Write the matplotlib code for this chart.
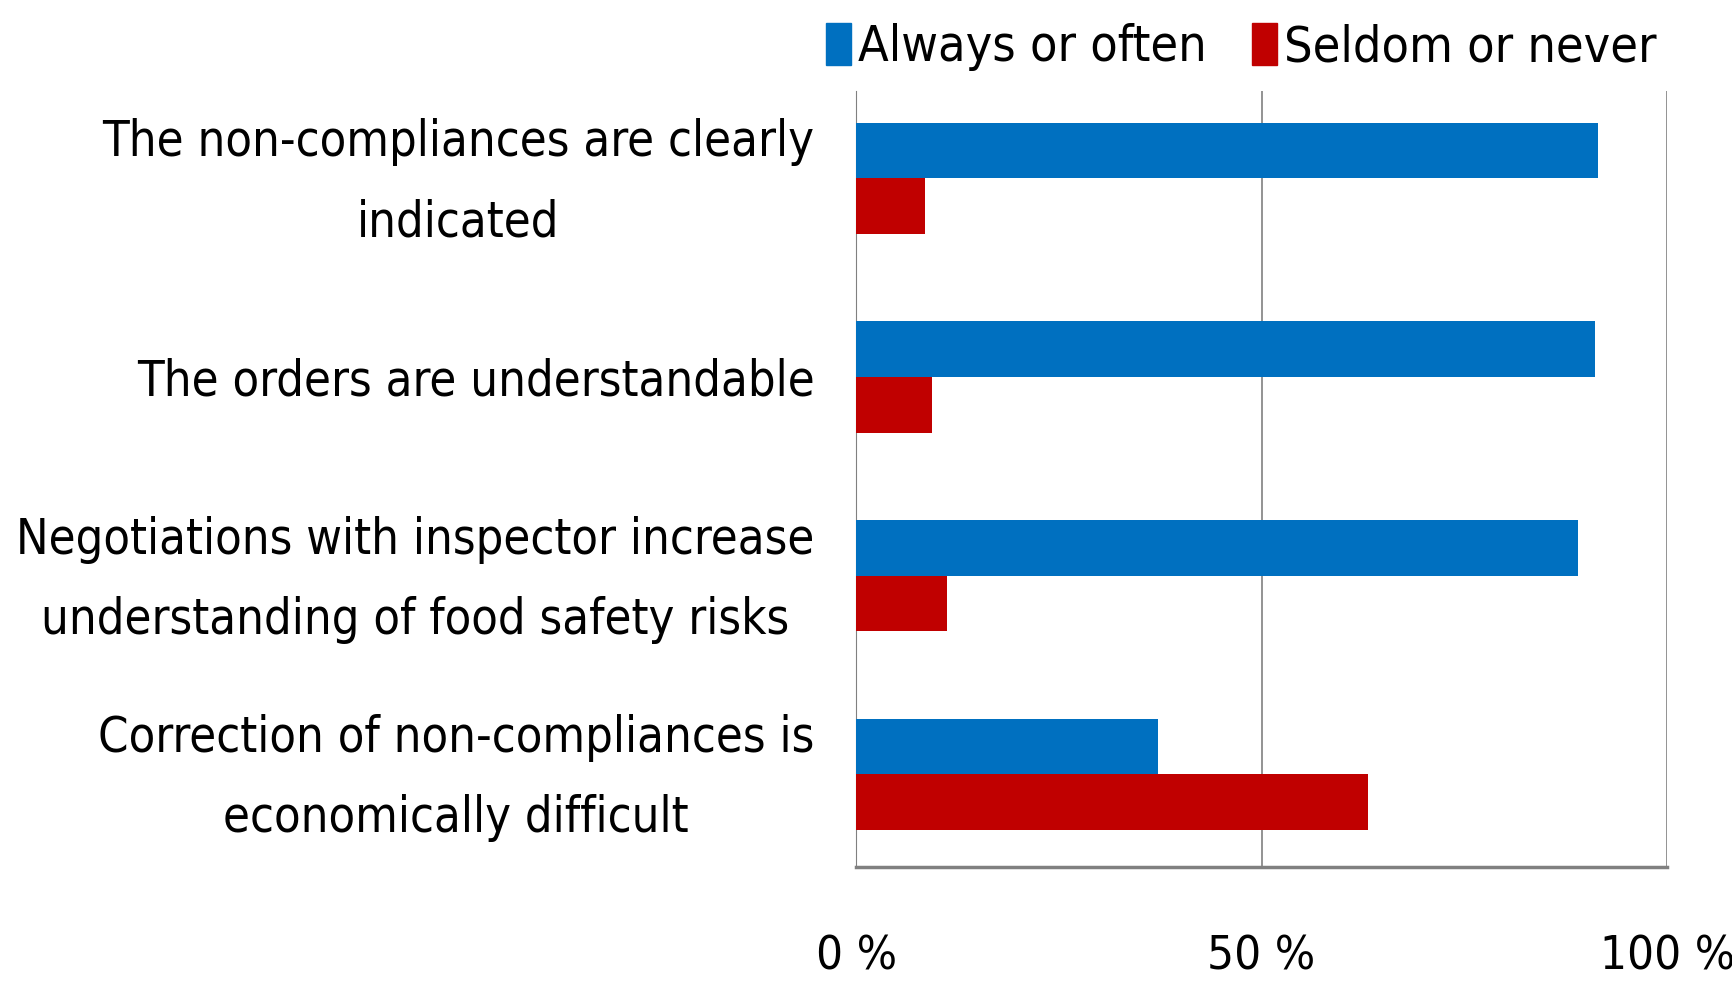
import numpy as np
import matplotlib.pyplot as plt
import matplotlib.transforms as mtransforms
from matplotlib.patches import Patch

# dados
categorias = ['The non-compliances are clearly\nindicated',
              'The orders are understandable',
              'Negotiations with inspector increase\nunderstanding of food safety risks',
              'Correction of non-compliances is\neconomically difficult']
sempre = [91.5, 91.1, 89.0, 37.2]
raramente = [8.5, 9.3, 11.2, 63.1]
series = ['Always or often', 'Seldom or never']
ticks = [0, 50, 100]
tick_labels = ['0 %', '50 %', '100 %']

plt.rcParams['font.family'] = ['DejaVu Sans']
plt.rcParams['font.stretch'] = 'condensed'

fig = plt.figure(figsize=(17.33, 9.88), dpi=100)
ax = fig.add_axes([0.494, 0.122, 0.468, 0.786])

y = np.arange(len(categorias))
h = 0.28
ax.barh(y - h / 2, sempre, height=h, color='#0070C0', zorder=3)
ax.barh(y + h / 2, raramente, height=h, color='#C00000', zorder=3)

ax.set_ylim(3.47, -0.44)
ax.set_xlim(0, 100)
ax.set_yticks(y)
ax.set_yticklabels(categorias, fontsize=35, ha='right', multialignment='center',
                   linespacing=1.85)
ax.tick_params(axis='y', length=0, pad=30)
# rótulos de duas linhas ficam um pouco baixos, sobe eles
desloc = mtransforms.ScaledTranslation(0, 17 / 100, fig.dpi_scale_trans)
for lbl in ax.get_yticklabels():
    if '\n' in lbl.get_text():
        lbl.set_transform(lbl.get_transform() + desloc)
ax.set_xticks(ticks)
ax.set_xticklabels(tick_labels, fontsize=34)
ax.tick_params(axis='x', length=0, pad=48)

ax.grid(axis='x', color='#808080', linewidth=1.2, zorder=0)
for s in ['top', 'right']:
    ax.spines[s].set_visible(False)
ax.spines['left'].set_color('#808080')
ax.spines['bottom'].set_color('#808080')
ax.spines['bottom'].set_linewidth(2.5)

handles = [Patch(color='#0070C0'), Patch(color='#C00000')]
fig.legend(handles, series, loc='upper right', bbox_to_anchor=(0.982, 1.022),
           ncol=2, frameon=False, fontsize=36, handlelength=0.5,
           handleheight=0.9, handletextpad=0.15, columnspacing=0.9)

fig.savefig('out.png', dpi=100)
